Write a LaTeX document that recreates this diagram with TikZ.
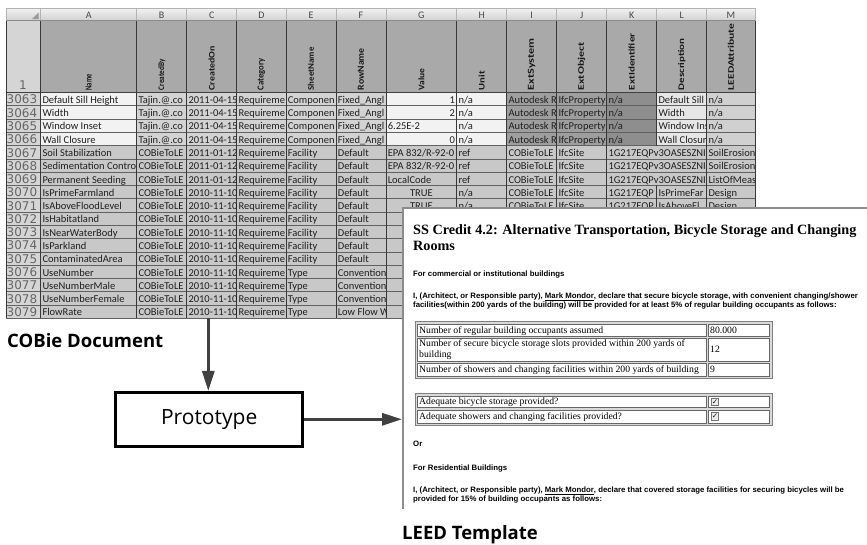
\documentclass[tikz,border=0pt]{standalone}
\usepackage{fontspec}
\setmainfont{Liberation Serif}
\newfontfamily\calfont{Carlito}
\newfontfamily\dvfont{DejaVu Sans}
\newfontfamily\osfont{Open Sans}
\newfontfamily\arfont{Liberation Sans}
\usetikzlibrary{arrows.meta}
\definecolor{hdrgray}{HTML}{A9A9A9}
\definecolor{rownum}{HTML}{D5D5D5}
\definecolor{lightcell}{HTML}{F2F2F2}
\definecolor{midcell}{HTML}{D3D3D3}
\definecolor{datacell}{HTML}{C8C8C8}
\definecolor{ijcell}{HTML}{9E9E9E}
\definecolor{kcell}{HTML}{8E8E8E}
\definecolor{lcell}{HTML}{E6E6E6}
\definecolor{mcell}{HTML}{D0D0D0}
\definecolor{arrowgray}{HTML}{404040}
\def\xs{{6,40.7,136.7,186.7,236.7,286,336,386,456.7,506.7,556.7,606.7,656.7,706.7,755}}
\newcommand\tcs[5][l]{%
  \pgfmathsetmacro\myxa{\xs[#3]}%
  \pgfmathtruncatemacro\mycn{#4+1}%
  \pgfmathsetmacro\myxb{\xs[\mycn]}%
  \pgfmathsetmacro\myya{92.5+13.28*#2}%
  \pgfmathsetmacro\myyb{\myya+13.28}%
  \begin{scope}
    \clip (\myxa,\myya) rectangle (\myxb,\myyb);
    \if#1l\node[cell,anchor=base west] (c-#2-#3) at (\myxa+1.6,\myyb-2.4) {#5};\fi
    \if#1r\node[cell,anchor=base east] (c-#2-#3) at (\myxb-1.6,\myyb-2.4) {#5};\fi
    \if#1c\node[cell,anchor=base] (c-#2-#3) at ({(\myxa+\myxb)/2},\myyb-2.4) {#5};\fi
  \end{scope}}
\newcommand\tc[4][l]{\tcs[#1]{#2}{#3}{#3}{#4}}
\begin{document}
\begin{tikzpicture}[x=1pt,y=-1pt]
\tikzset{
 cell/.style={inner sep=0pt, font=\calfont\fontsize{10.5}{12}\selectfont, text=black!88},
 rnum/.style={inner sep=0pt, font=\dvfont\fontsize{12}{13}\selectfont, text=black!60, anchor=base west},
 colhd/.style={inner sep=0pt, font=\calfont\fontsize{10}{12}\selectfont, text=black!72},
 fldhd/.style={inner sep=0pt, font=\calfont\bfseries\fontsize{8.5}{9}\selectfont, text=black!90, rotate=90, anchor=west},
 gridh/.style={draw=black!62, line width=0.7pt},
 gridv/.style={draw=black!78, line width=0.8pt},
 doctitle/.style={inner sep=0pt, anchor=base west, font=\bfseries\fontsize{14.2}{16}\selectfont},
 docsmall/.style={inner sep=0pt, anchor=base west, font=\arfont\bfseries\fontsize{7.8}{9}\selectfont},
 tabtxt/.style={inner sep=0pt, anchor=base west, font=\fontsize{9.7}{11}\selectfont},
 chk/.style={draw=black!55, line width=0.6pt, fill=black!8, minimum size=7.5pt, inner sep=0pt, font=\dvfont\bfseries\fontsize{7.5}{8}\selectfont, text=black!90},
 tabframe/.style={fill=black!15, draw=black!50, line width=0.8pt},
 tabcell/.style={fill=white, draw=black!60, line width=0.6pt},
 caption/.style={inner sep=0pt, anchor=base west, font=\osfont\bfseries\fontsize{18.5}{20}\selectfont},
 protobox/.style={draw=black, line width=3pt, minimum width=186.7pt, minimum height=53.7pt, inner sep=0pt, font=\osfont\fontsize{21}{24}\selectfont},
 arr/.style={draw=arrowgray, line width=3pt, -{Triangle[length=20pt,width=12pt]}},
 docedge/.style={draw=black!45, line width=1.6pt},
}
\useasboundingbox (0,0) rectangle (867,544);
\fill[white] (0,0) rectangle (867,544);
% ---------- spreadsheet backgrounds
\shade[top color=white!95!black, bottom color=black!18] (6,8) rectangle (755,20.5);
\fill[rownum] (6,20.5) rectangle (40.7,318.3);
\fill[hdrgray] (40.7,20.5) rectangle (755,92.5);
\fill[lightcell] (40.7,92.5) rectangle (136.7,145.62);
\fill[midcell] (136.7,92.5) rectangle (386,145.62);
\fill[lightcell] (386,92.5) rectangle (506.7,145.62);
\fill[ijcell] (506.7,92.5) rectangle (606.7,145.62);
\fill[kcell] (606.7,92.5) rectangle (656.7,145.62);
\fill[lcell] (656.7,92.5) rectangle (706.7,145.62);
\fill[mcell] (706.7,92.5) rectangle (755,145.62);
\fill[datacell] (40.7,145.62) rectangle (755,318.3);
\fill[black!40] (38.5,19) -- (38.5,12.5) -- (32,19) -- cycle;
% grid
\foreach \k in {0,...,17} {\draw[gridh] (6,{92.5+13.28*\k}) -- (755,{92.5+13.28*\k});}
\draw[black!75, line width=1.2pt] (6,92.5) -- (755,92.5);
\foreach \c in {0,...,11,13,14} {
  \pgfmathsetmacro\myxa{\xs[\c]}
  \draw[black!30, line width=0.6pt] (\myxa,8) -- (\myxa,20.5);
  \draw[gridv] (\myxa,20.5) -- (\myxa,318.3);
}
\draw[black!30, line width=0.6pt] (656.7,8) -- (656.7,20.5);
\draw[gridv] (656.7,20.5) -- (656.7,145.62);
\draw[gridv] (656.7,185.46) -- (656.7,318.3);
\draw[black!30, line width=0.6pt] (6,8) -- (755,8);
\draw[black!45, line width=0.6pt] (6,20.5) -- (755,20.5);
% headers
\foreach \c/\t/\l/\w in {1/Name/A/16,2/CreatedBy/B/31,3/CreatedOn/C/44,4/Category/D/32,5/SheetName/E/43,6/RowName/F/42,7/Value/G/22,8/Unit/H/19,9/ExtSystem/I/52,10/ExtObject/J/48,11/ExtIdentifier/K/57,12/Description/L/52,13/LEEDAttribute/M/67} {
  \pgfmathsetmacro\myxa{\xs[\c]}
  \pgfmathtruncatemacro\mycn{\c+1}
  \pgfmathsetmacro\myxb{\xs[\mycn]}
  \node[fldhd] (h-\c) at ({(\myxa+\myxb)/2},90.5) {\resizebox{\w pt}{6pt}{\t}};
  \node[colhd, anchor=base] (l-\c) at ({(\myxa+\myxb)/2},18) {\l};
}
\node[rnum] (rn-h) at (19,89.5) {1};
\foreach \r in {0,...,16} {
  \pgfmathtruncatemacro\rnv{3063+\r}
  \node[rnum] (rn-\r) at (6.5,{92.5+13.28*\r+13.28-1.9}) {\rnv};
}
% rows 3063-3066
\foreach \r/\nm/\ds in {0/Default Sill Height/Default Sill,1/Width/Width,2/Window Inset/Window Ins,3/Wall Closure/Wall Closur} {
  \tc{\r}{1}{\nm}
  \tc{\r}{2}{Tajin.@.co}
  \tc{\r}{3}{2011-04-15}
  \tc{\r}{4}{Requireme}
  \tc{\r}{5}{Componen}
  \tc{\r}{6}{Fixed\_Angl}
  \tc{\r}{8}{n/a}
  \tc{\r}{9}{Autodesk R}
  \tc{\r}{10}{IfcProperty}
  \tc{\r}{11}{n/a}
  \tc{\r}{12}{\ds}
  \tc{\r}{13}{n/a}
}
\tc[r]{0}{7}{1}
\tc[r]{1}{7}{2}
\tc{2}{7}{6.25E-2}
\tc[r]{3}{7}{0}
% rows 3067-3071
\foreach \r/\nm in {4/Soil Stabilization,5/Sedimentation Contro,6/Permanent Seeding,7/IsPrimeFarmland,8/IsAboveFloodLevel} {
  \tc{\r}{1}{\nm}
  \tc{\r}{2}{COBieToLE}
  \tc{\r}{4}{Requireme}
  \tc{\r}{5}{Facility}
  \tc{\r}{6}{Default}
  \tc{\r}{9}{COBieToLE}
  \tc{\r}{10}{IfcSite}
}
\foreach \r in {4,5,6} {\tc{\r}{3}{2011-01-12}}
\foreach \r in {7,8} {\tc{\r}{3}{2010-11-10}}
\tc{4}{7}{EPA 832/R-92-0}
\tc{5}{7}{EPA 832/R-92-0}
\tc{6}{7}{LocalCode}
\tc{4}{8}{ref}
\tc{5}{8}{ref}
\tc{6}{8}{ref}
\tcs{4}{11}{12}{1G217EQPv3OASESZNI}
\tcs{5}{11}{12}{1G217EQPv3OASESZNI}
\tcs{6}{11}{12}{1G217EQPv3OASESZNI}
\tc{4}{13}{SoilErosion}
\tc{5}{13}{SoilErosion}
\tc{6}{13}{ListOfMeas}
\tc[c]{7}{7}{TRUE}
\tc[c]{8}{7}{TRUE}
\tc{7}{8}{n/a}
\tc{8}{8}{n/a}
\tc{7}{11}{1G217EQP}
\tc{8}{11}{1G217EQP}
\tc{7}{12}{IsPrimeFar}
\tc{8}{12}{IsAboveFl}
\tc{7}{13}{Design}
\tc{8}{13}{Design}
% rows 3072-3079
\foreach \r/\nm/\sh/\rw in {9/IsHabitatland/Facility/Default,10/IsNearWaterBody/Facility/Default,11/IsParkland/Facility/Default,12/ContaminatedArea/Facility/Default,13/UseNumber/Type/Convention,14/UseNumberMale/Type/Convention,15/UseNumberFemale/Type/Convention,16/FlowRate/Type/Low Flow W} {
  \tc{\r}{1}{\nm}
  \tc{\r}{2}{COBieToLE}
  \tc{\r}{3}{2010-11-10}
  \tc{\r}{4}{Requireme}
  \tc{\r}{5}{\sh}
  \tc{\r}{6}{\rw}
}
% ---------- LEED document panel
\fill[white] (403,208) rectangle (867,509);
\draw[docedge] (403,509) -- (403,208) -- (867,208);
\node[doctitle] (t1) at (413,234) {SS Credit 4.2: Alternative Transportation, Bicycle Storage and Changing};
\node[doctitle] (t2) at (413,250) {Rooms};
\node[docsmall] (s1) at (413,276.5) {For commercial or institutional buildings};
\node[docsmall] (p1a) at (413,298.3) {I, (Architect, or Responsible party), \underline{Mark Mondor}, declare that secure bicycle storage, with convenient changing/shower};
\node[docsmall] (p1b) at (413,307.3) {facilities(within 200 yards of the building) will be provided for at least 5\% of regular building occupants as follows:};
% table 1
\draw[tabframe] (415,321) rectangle (772,378.5);
\draw[tabcell] (417.5,324) rectangle (706,336.5);
\draw[tabcell] (708.5,324) rectangle (769.5,336.5);
\draw[tabcell] (417.5,338.5) rectangle (706,361.3);
\draw[tabcell] (708.5,338.5) rectangle (769.5,361.3);
\draw[tabcell] (417.5,363.3) rectangle (706,376);
\draw[tabcell] (708.5,363.3) rectangle (769.5,376);
\node[tabtxt] (r1) at (419,333.5) {Number of regular building occupants assumed};
\node[tabtxt] (v1) at (710,333.5) {80.000};
\node[tabtxt] (r2a) at (419,346.5) {Number of secure bicycle storage slots provided within 200 yards of};
\node[tabtxt] (r2b) at (419,357.5) {building};
\node[tabtxt] (v2) at (710,352.5) {12};
\node[tabtxt] (r3) at (419,372.5) {Number of showers and changing facilities within 200 yards of building};
\node[tabtxt] (v3) at (710,372.5) {9};
% table 2
\draw[tabframe] (415,393) rectangle (772,425.5);
\draw[tabcell] (417.5,396) rectangle (706,407.5);
\draw[tabcell] (708.5,396) rectangle (769.5,407.5);
\draw[tabcell] (417.5,410) rectangle (706,423);
\draw[tabcell] (708.5,410) rectangle (769.5,423);
\node[tabtxt] (q1) at (419,404.8) {Adequate bicycle storage provided?};
\node[tabtxt] (q2) at (419,419.8) {Adequate showers and changing facilities provided?};
\node[chk] (k1) at (715,401.8) {✓};
\node[chk] (k2) at (715,416.5) {✓};
\node[docsmall] (or) at (413,446) {Or};
\node[docsmall] (s2) at (413,470) {For Residential Buildings};
\node[docsmall] (p2a) at (413,492.7) {I, (Architect, or Responsible party), \underline{Mark Mondor}, declare that covered storage facilities for securing bicycles will be};
\node[docsmall] (p2b) at (413,501.2) {provided for 15\% of building occupants as follows:};
% ---------- captions, prototype, arrows
\node[caption] (cobie) at (7,347.3) {COBie Document};
\node[caption] (leed) at (402,539.3) {LEED Template};
\node[protobox] (proto) at (209.2,419.3) {Prototype};
\coordinate (sheetbot) at (208.3,318.3);
\coordinate (leedin) at (402,419.3);
\draw[arr] (sheetbot) -- (sheetbot |- proto.north);
\draw[arr] (proto.east) -- (leedin);
\end{tikzpicture}
\end{document}
